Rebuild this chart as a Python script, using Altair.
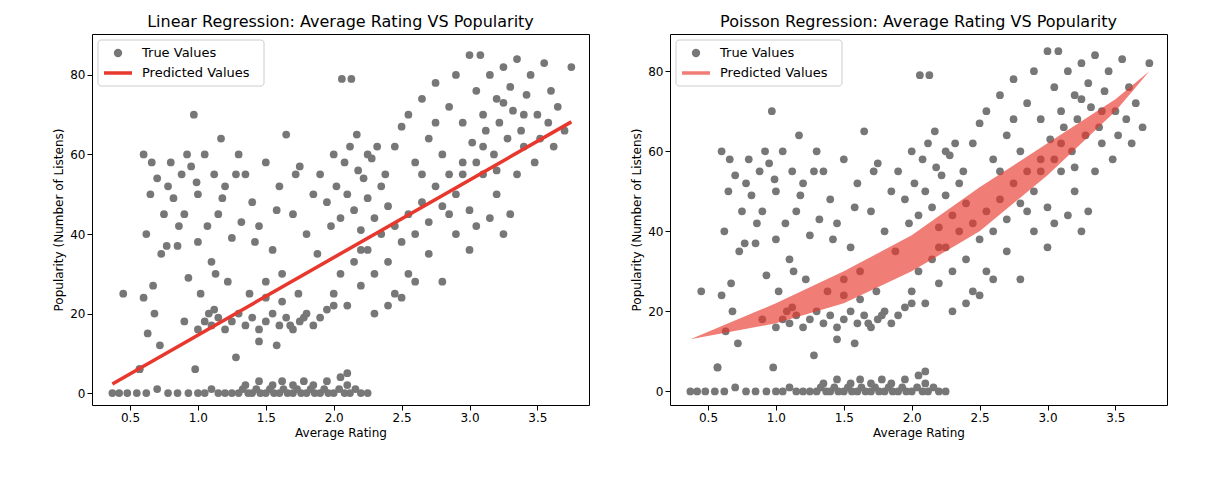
import altair as alt
import pandas as pd

# (rating, popularity), grouped by region of the plot
bottom_x = [0.37,0.42,0.48,0.55,0.62,0.7,0.78,0.85,0.93,1.0,1.05,1.1,1.15,1.2,1.25,1.3,1.33,1.37,1.4,1.43,
            1.46,1.5,1.53,1.56,1.6,1.63,1.66,1.7,1.73,1.76,1.8,1.83,1.86,1.9,1.93,1.96,2.0,2.04,2.08,2.12,
            2.16,2.2,2.25,1.35,1.45,1.55,1.62,1.7,1.78,1.85,1.95,2.05,2.1,2.1,0.98,0.57]
bottom_y = [0,0,0,0,0,1,0,0,0,0,0,1,0,0,0,0,1,0,0,1,
            0,0,1,0,0,1,0,0,1,0,0,1,0,0,1,0,0,1,0,0,
            1,0,0,2,3,2,3,2,3,2,3,4,2,5,6,6]
left = [(0.45,25),(0.57,6),(0.6,60),(0.62,40),(0.65,50),(0.67,27),(0.68,20),(0.7,54),(0.72,12),(0.75,45),
        (0.77,37),(0.8,58),(0.82,49),(0.85,37),(0.88,55),(0.9,18),(0.93,29),(0.95,57),(0.97,70),(1.0,50),
        (1.02,25),(1.05,60),(1.07,42),(1.1,33),(1.12,55),(1.15,45),(1.17,64),(1.2,52),(1.22,28),(1.25,39),
        (0.6,24),(0.66,58),(0.73,35),(0.78,52),(0.86,42),(0.92,60),(0.99,53),(1.08,20),(1.13,30),(1.18,49),
        (1.28,55),(1.3,60),(0.63,15),(0.9,45),(1.0,38)]
band = [(1.0,16),(1.05,18),(1.1,17),(1.15,19),(1.2,16),(1.25,18),(1.3,20),(1.35,17),(1.4,19),(1.45,16),
        (1.5,18),(1.55,20),(1.6,17),(1.65,19),(1.7,16),(1.75,18),(1.8,20),(1.85,17),(1.9,19),(1.95,21),
        (2.0,22),(1.38,25),(1.5,24),(1.62,23),(1.74,25),(1.45,13),(1.58,12),(1.28,9),(1.68,17),(1.12,21),(1.78,19)]
mid = [(1.35,55),(1.4,48),(1.45,42),(1.5,58),(1.55,36),(1.6,52),(1.65,65),(1.7,45),(1.75,57),(1.8,40),
       (1.85,50),(1.42,38),(1.58,46),(1.72,55),(1.88,35),(1.32,43),(1.62,30),(1.5,28),
       (1.9,55),(1.95,48),(2.0,60),(2.02,52),(2.05,44),(2.08,58),(2.1,50),(2.12,62),(2.15,46),(2.18,56),
       (2.2,41),(2.22,54),(2.25,49),(2.28,59),(2.3,44),(2.35,52),(2.4,47),(1.98,42),(2.06,79),(2.13,79),
       (2.17,65),(2.25,60),(2.32,62),(2.38,55)]
diag = [(2.0,25),(2.05,30),(2.1,22),(2.15,33),(2.2,27),(2.25,36),(2.3,30),(2.35,40),(2.4,33),(2.45,25),
        (2.5,38),(2.55,45),(2.6,40),(2.65,48),(2.7,43),(2.75,52),(2.8,47),(2.85,55),(2.9,50),(2.95,58),
        (3.0,46),(3.05,42),(3.1,55),(3.15,44),(3.2,50),(3.25,40),(3.3,45),(2.3,20),(2.4,22),(2.5,24),
        (2.6,28),(2.8,28),(2.2,36),(2.45,42),(2.7,35),(2.55,30),(2.9,40),(3.0,36),(2.65,55),(2.85,45)]
top = [(2.45,62),(2.5,67),(2.55,70),(2.6,58),(2.65,74),(2.7,64),(2.75,78),(2.8,60),(2.85,72),(2.9,80),
       (2.95,68),(3.0,85),(3.02,63),(3.05,76),(3.08,85),(3.1,70),(3.12,66),(3.15,80),(3.18,60),(3.2,74),
       (3.22,68),(3.25,82),(3.28,64),(3.3,77),(3.32,71),(3.35,84),(3.38,66),(3.4,62),(3.42,75),(3.45,80),
       (3.48,58),(3.5,70),(3.52,64),(3.55,83),(3.58,68),(3.6,76),(3.62,62),(3.65,72),(3.7,66),(3.75,82),
       (3.05,58),(3.2,56),(3.35,55),(2.95,55),(3.1,62),(3.4,70),(3.25,73),(2.75,68)]

pairs = list(zip(bottom_x, bottom_y)) + left + band + mid + diag + top
pts = pd.DataFrame(pairs, columns=["rating", "pop"])

lin_x = [0.37, 3.75]
lin_y = [2.3, 68.2]
lin = pd.DataFrame({"rating": lin_x, "pop": lin_y})

pois_x = [0.37, 1.0, 1.5, 2.0, 2.5, 3.0, 3.5, 3.75]
pois_hi = [13, 22, 30, 39, 51, 62, 73, 80]
pois_lo = [13, 17, 22, 30, 40, 54, 70, 80]
pois = pd.DataFrame({"rating": pois_x, "hi": pois_hi, "lo": pois_lo})

legend_labels = ["True Values", "Predicted Values"]

GRAY = "#777777"
FONT = "DejaVu Sans"


def legend(red, line_w, line_op):
    box = alt.Chart(pd.DataFrame({"a": [0]})).mark_rect(
        fill="white", stroke="#cccccc", cornerRadius=3).encode(
        x=alt.value(6), x2=alt.value(172), y=alt.value(6), y2=alt.value(52))
    dot = alt.Chart(pd.DataFrame({"a": [0]})).mark_point(
        filled=True, size=70, color=GRAY, opacity=1).encode(x=alt.value(26), y=alt.value(19))
    line = alt.Chart(pd.DataFrame({"a": [0]})).mark_rule(
        color=red, strokeWidth=line_w, opacity=line_op).encode(
        x=alt.value(12), x2=alt.value(40), y=alt.value(39))
    txt = alt.Chart(pd.DataFrame({"t": legend_labels, "yy": [19, 39]})).mark_text(
        align="left", baseline="middle", fontSize=13, font=FONT).encode(
        text="t:N", x=alt.value(50), y=alt.YValue if False else alt.Y("yy:Q", scale=None))
    return box + dot + line + txt


def panel(title, pred, leg, ydom):
    xs = alt.X("rating:Q", title="Average Rating", scale=alt.Scale(domain=[0.22, 3.88], nice=False),
               axis=alt.Axis(values=[0.5, 1.0, 1.5, 2.0, 2.5, 3.0, 3.5], format=".1f", grid=False))
    ys = alt.Y("pop:Q", title="Popularity (Number of Listens)", scale=alt.Scale(domain=ydom, nice=False),
               axis=alt.Axis(values=[0, 20, 40, 60, 80], grid=False))
    p = alt.Chart(pts).mark_point(filled=True, size=60, opacity=1, color=GRAY).encode(x=xs, y=ys)
    return (p + pred + leg).properties(
        width=497, height=371,
        title=alt.TitleParams(title, fontSize=16, fontWeight="normal"))


lin_layer = alt.Chart(lin).mark_line(color="#e8372c", strokeWidth=3.5).encode(
    x="rating:Q", y="pop:Q")
pois_layer = alt.Chart(pois).mark_area(color="#e8372c", opacity=0.65).encode(
    x="rating:Q", y="hi:Q", y2="lo:Q")

chart = alt.hconcat(
    panel("Linear Regression: Average Rating VS Popularity", lin_layer,
          legend("#e8372c", 3.5, 1), [-3, 90.3]),
    panel("Poisson Regression: Average Rating VS Popularity", pois_layer,
          legend("#e8372c", 3.5, 0.65), [-3.4, 89.3]),
    spacing=40,
).properties(padding={"left": 44, "top": 5, "right": 5, "bottom": 5}).configure_view(
    stroke="black").configure_axis(
    labelFontSize=12, titleFontSize=12, titleFontWeight="normal", domain=False, tickColor="black",
    labelColor="black", titleColor="black", labelFont=FONT, titleFont=FONT,
).configure_title(font=FONT)

chart.save("out.html", embed_options={"renderer": "svg", "actions": False})
